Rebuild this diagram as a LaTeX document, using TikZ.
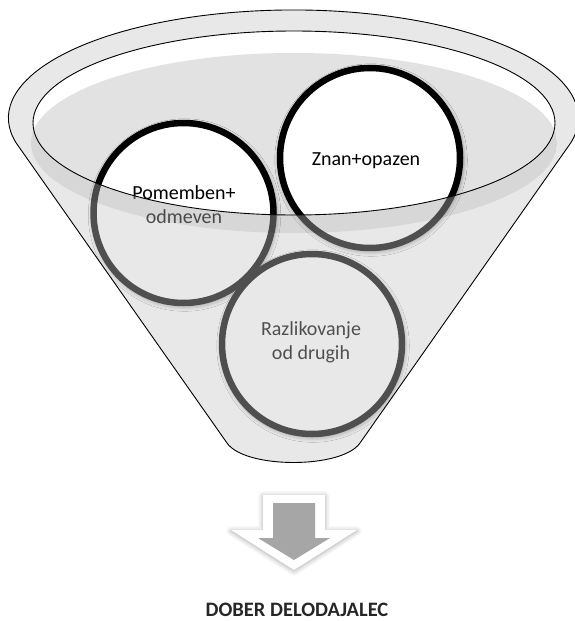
\documentclass[tikz,border=0pt]{standalone}
\usepackage{fontspec}
\setmainfont{Carlito}
\usetikzlibrary{shadows.blur}
\definecolor{liquid}{HTML}{E2E2E2}
\definecolor{veil}{HTML}{C6C6C6}
\definecolor{arrowgray}{HTML}{A6A6A6}
\definecolor{titlecol}{HTML}{262626}
\newcommand{\funnelpath}{(16.2,143) arc[start angle=193.4, end angle=-13.4, x radius=285pt, y radius=108pt] -- (360,443) .. controls (342,469) and (245,469) .. (227,443) -- cycle}
\newcommand{\innerrim}{(294,123) ellipse [x radius=261pt, y radius=92pt]}
\newcommand{\liquidsurf}{(294,143) ellipse [x radius=263pt, y radius=90pt]}
\tikzset{
  ball/.style={circle, draw=black, line width=6.5pt, fill=white, minimum size=180pt, inner sep=0pt,
    blur shadow={shadow xshift=1pt, shadow yshift=-2pt, shadow scale=1.035, shadow blur radius=3pt, shadow opacity=30}},
  lbl/.style={font=\fontsize{20}{24}\selectfont, align=center, text=black, inner sep=0pt},
  rim/.style={draw=black, line width=0.9pt},
  title/.style={font=\bfseries\fontsize{20.5}{24}\selectfont, text=titlecol, inner sep=0pt}
}
\begin{document}
\begin{tikzpicture}[x=1pt,y=-1pt]
\useasboundingbox (0,0) rectangle (574,621);
% funnel base
\fill[white] \funnelpath;
% liquid inside the mouth
\begin{scope}
  \clip \innerrim;
  \fill[liquid] \liquidsurf;
\end{scope}
% balls
\node[ball] (pom) at (183.5,213) {};
\node[ball] (znan) at (370,158) {};
\node[ball] (raz) at (312,344) {};
\node[lbl] (pomt) at (184,205) {Pomemben+\\odmeven};
\node[lbl] (znant) at (366,161) {Znan+opazen};
\node[lbl] (razt) at (311,342) {Razlikovanje\\od drugih};
% veil of the funnel body in front
\fill[even odd rule, veil, fill opacity=0.4] \funnelpath \innerrim;
% darker band of the liquid surface below the rim
\begin{scope}
  \clip \liquidsurf;
  \fill[even odd rule, black, fill opacity=0.07] \liquidsurf \innerrim;
\end{scope}
% outlines
\draw[rim] \innerrim;
\draw[rim] \funnelpath;
% arrow
\fill[white, blur shadow={shadow xshift=0pt, shadow yshift=-1pt, shadow blur radius=5pt, shadow opacity=35}]
  (263,495) -- (325,495) -- (325,530) -- (357,530) -- (294,570) -- (231,530) -- (263,530) -- cycle;
\fill[arrowgray] (273,503) -- (315,503) -- (315,538) -- (330,538) -- (294,560) -- (258,538) -- (273,538) -- cycle;
\node[title] (res) at (297,610) {DOBER DELODAJALEC};
\end{tikzpicture}
\end{document}
